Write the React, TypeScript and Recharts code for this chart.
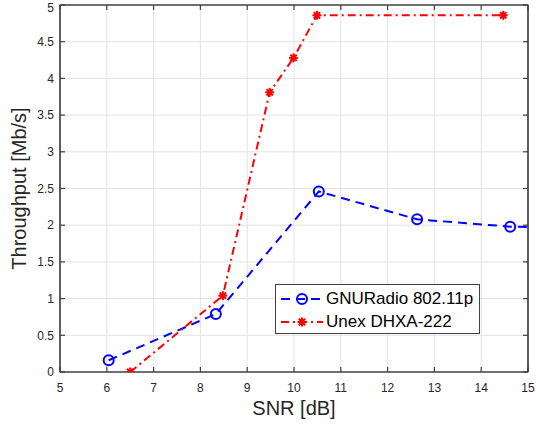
import {
  LineChart,
  Line,
  XAxis,
  YAxis,
  CartesianGrid,
  Legend,
  ReferenceArea,
} from "recharts";

const snrGnu = [6.04, 8.33, 10.53, 12.63, 14.62, 16.5];
const tputGnu = [0.16, 0.79, 2.46, 2.08, 1.98, 1.95];
const snrUnex = [6.5, 8.48, 9.48, 9.99, 10.49, 14.47];
const tputUnex = [0, 1.04, 3.81, 4.28, 4.86, 4.86];
const xTicks = [5, 6, 7, 8, 9, 10, 11, 12, 13, 14, 15];
const yTicks = [0, 0.5, 1, 1.5, 2, 2.5, 3, 3.5, 4, 4.5, 5];

// one table on a shared numeric x, gaps bridged with connectNulls
const rows = [
  ...snrGnu.map((x, i) => ({ x, gnu: tputGnu[i], unex: null as number | null })),
  ...snrUnex.map((x, i) => ({ x, gnu: null as number | null, unex: tputUnex[i] })),
].sort((a, b) => a.x - b.x);

const FONT = "'Liberation Sans', Arial, Helvetica, sans-serif";
const AXIS = "#404040";
const TICK = { fontSize: 12, fill: "#262626", fontFamily: FONT };
const LINE_STYLE = { stroke: AXIS, strokeWidth: 1.2 };
const blank = () => "";

function CircleDot({ cx, cy, value }: { cx?: number; cy?: number; value?: number | null }) {
  if (cx == null || cy == null || value === null) return null;
  return <circle cx={cx} cy={cy} r={5} fill="none" stroke="#0000ff" strokeWidth={2} />;
}

function StarDot({ cx, cy, value }: { cx?: number; cy?: number; value?: number | null }) {
  if (cx == null || cy == null || value === null) return null;
  const r = 4.5;
  const d = r * 0.707;
  return (
    <g stroke="#ff0000" strokeWidth={2}>
      <line x1={cx - r} y1={cy} x2={cx + r} y2={cy} />
      <line x1={cx} y1={cy - r} x2={cx} y2={cy + r} />
      <line x1={cx - d} y1={cy - d} x2={cx + d} y2={cy + d} />
      <line x1={cx - d} y1={cy + d} x2={cx + d} y2={cy - d} />
      <circle cx={cx} cy={cy} r={2.5} fill="#ff0000" strokeWidth={0} />
    </g>
  );
}

function LegendBox() {
  return (
    <div
      style={{
        width: 205,
        height: 50,
        boxSizing: "border-box",
        border: `1px solid ${AXIS}`,
        background: "#fff",
        fontFamily: FONT,
        fontSize: 17,
        color: "#000",
        padding: "2px 0 0 4px",
      }}
    >
      <div style={{ display: "flex", alignItems: "center", height: 23 }}>
        <svg width={44} height={14}>
          <line x1={1} y1={7} x2={43} y2={7} stroke="#0000ff" strokeWidth={2} strokeDasharray="9 6" />
          <CircleDot cx={22} cy={7} />
        </svg>
        <span style={{ marginLeft: 2 }}>GNURadio 802.11p</span>
      </div>
      <div style={{ display: "flex", alignItems: "center", height: 23 }}>
        <svg width={44} height={14}>
          <line x1={1} y1={7} x2={43} y2={7} stroke="#ff0000" strokeWidth={2} strokeDasharray="8 4 2 4" />
          <StarDot cx={22} cy={7} />
        </svg>
        <span style={{ marginLeft: 2 }}>Unex DHXA-222</span>
      </div>
    </div>
  );
}

export default function App() {
  return (
    <div style={{ position: "absolute", left: 0, top: 0, background: "#fff" }}>
      <LineChart
        width={536}
        height={426}
        data={rows}
        margin={{ top: 4, right: 7, bottom: 0, left: 0 }}
      >
        <CartesianGrid
          stroke="#e3e3e3"
          strokeWidth={1}
          horizontalValues={yTicks.slice(1, -1)}
          verticalValues={xTicks.slice(1, -1)}
        />
        <XAxis
          type="number"
          dataKey="x"
          domain={[5, 15]}
          ticks={xTicks}
          allowDataOverflow
          height={54}
          axisLine={LINE_STYLE}
          tickLine={LINE_STYLE}
          tickSize={-5}
          tickMargin={16}
          tick={TICK}
          label={{
            value: "SNR [dB]",
            position: "insideBottom",
            offset: 11,
            style: { fontSize: 20, fill: "#262626", fontFamily: FONT },
          }}
        />
        <XAxis
          xAxisId="t"
          orientation="top"
          type="number"
          dataKey="x"
          domain={[5, 15]}
          ticks={xTicks}
          allowDataOverflow
          height={1}
          axisLine={LINE_STYLE}
          tickLine={LINE_STYLE}
          tickSize={-5}
          tickFormatter={blank}
        />
        <YAxis
          type="number"
          domain={[0, 5]}
          ticks={yTicks}
          allowDataOverflow
          width={60}
          axisLine={LINE_STYLE}
          tickLine={LINE_STYLE}
          tickSize={-5}
          tickMargin={11}
          tick={TICK}
          label={{
            value: "Throughput [Mb/s]",
            angle: -90,
            position: "insideLeft",
            offset: 19,
            style: { fontSize: 20, fill: "#262626", fontFamily: FONT, textAnchor: "middle" },
          }}
        />
        <YAxis
          yAxisId="r"
          orientation="right"
          type="number"
          domain={[0, 5]}
          ticks={yTicks}
          allowDataOverflow
          width={1}
          axisLine={LINE_STYLE}
          tickLine={LINE_STYLE}
          tickSize={-5}
          tickFormatter={blank}
        />
        <ReferenceArea x1={5} x2={15} y1={0} y2={5} fill="none" stroke={AXIS} strokeWidth={1.2} />
        <Legend
          layout="vertical"
          align="center"
          verticalAlign="middle"
          wrapperStyle={{ left: 275, top: 284, width: 205, height: 50 }}
          content={() => <LegendBox />}
        />
        <Line
          dataKey="gnu"
          connectNulls
          stroke="#0000ff"
          strokeWidth={2}
          strokeDasharray="9 6"
          dot={<CircleDot />}
          activeDot={false}
          isAnimationActive={false}
        />
        <Line
          dataKey="unex"
          connectNulls
          stroke="#ff0000"
          strokeWidth={2}
          strokeDasharray="8 4 2 4"
          dot={<StarDot />}
          activeDot={false}
          isAnimationActive={false}
        />
      </LineChart>
    </div>
  );
}
